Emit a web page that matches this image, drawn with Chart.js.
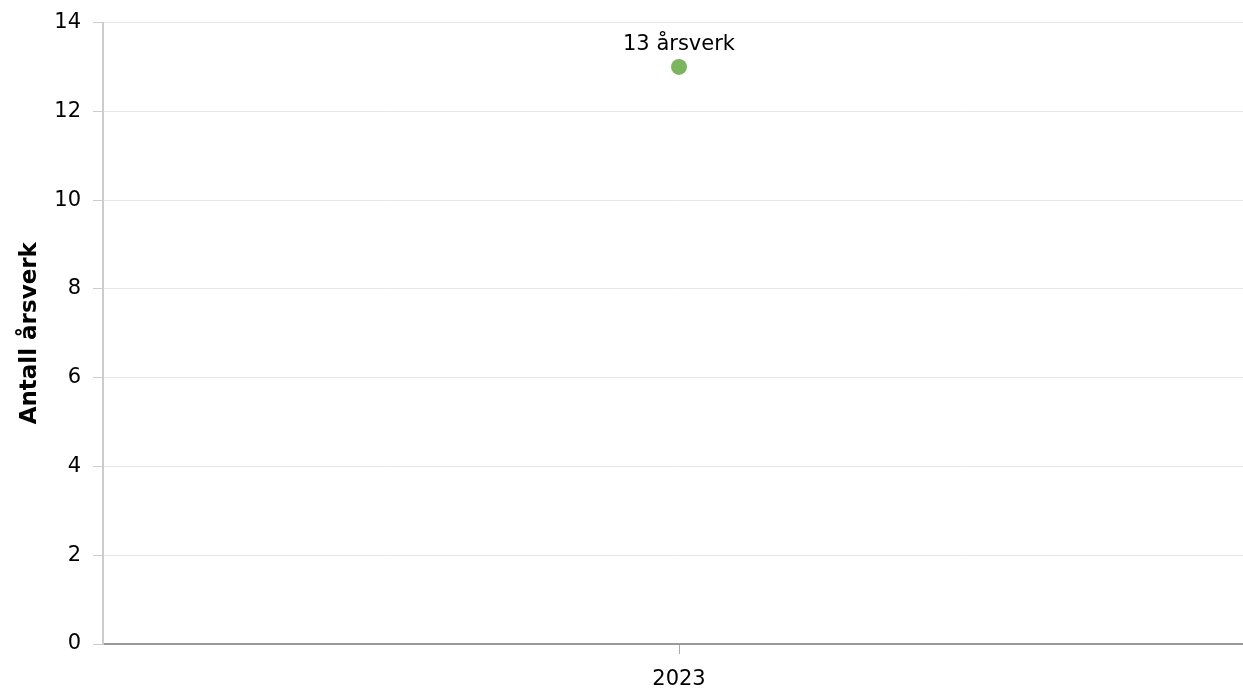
<!DOCTYPE html>
<html>
<head>
<meta charset="utf-8">
<script src="https://cdn.jsdelivr.net/npm/chart.js@4"></script>
<style>
html,body{margin:0;padding:0;overflow:hidden;background:#fff;}
#wrap{width:1263px;height:691px;position:relative;}
</style>
</head>
<body>
<div id="wrap"><canvas id="c"></canvas></div>
<script>
const categories = ["2023"];
const values = [13];
const pointLabels = ["13 årsverk"];
const yTicks = [0, 2, 4, 6, 8, 10, 12, 14];
const yTitle = "Antall årsverk";

const FONT = "'DejaVu Sans', Verdana, sans-serif";

const labelPlugin = {
  id: 'pointLabels',
  afterDatasetsDraw(chart) {
    const ctx = chart.ctx;
    const meta = chart.getDatasetMeta(0);
    ctx.save();
    ctx.font = "21px " + FONT;
    ctx.fillStyle = "#000";
    ctx.textAlign = "center";
    ctx.textBaseline = "alphabetic";
    meta.data.forEach((pt, i) => {
      ctx.fillText(pointLabels[i], pt.x, pt.y - 17);
    });
    ctx.restore();
  }
};

new Chart(document.getElementById('c'), {
  type: 'line',
  data: {
    labels: categories,
    datasets: [{
      data: values,
      showLine: false,
      pointRadius: 8,
      pointHoverRadius: 8,
      pointBackgroundColor: '#7cb55f',
      pointBorderColor: '#7cb55f',
      pointBorderWidth: 0
    }]
  },
  options: {
    responsive: true,
    maintainAspectRatio: false,
    animation: false,
    layout: { padding: { top: 21, right: 0, bottom: 0, left: 0 } },
    plugins: { legend: { display: false }, tooltip: { enabled: false } },
    scales: {
      x: {
        type: 'category',
        offset: true,
        grid: { drawOnChartArea: false, tickLength: 10, tickColor: '#aaa', offset: false, display: true },
        border: { color: '#999', width: 2 },
        ticks: { color: '#000', font: { family: FONT, size: 21 }, padding: 13 },
        afterFit(s) { s.height = 47; }
      },
      y: {
        min: 0, max: 14,
        afterBuildTicks(s) { s.ticks = yTicks.map(v => ({ value: v })); },
        grid: { color: '#e6e6e6', tickLength: 10, tickColor: '#ccc' },
        border: { color: '#ccc', width: 2 },
        ticks: { color: '#000', font: { family: FONT, size: 21, lineHeight: 1 }, padding: 12 },
        title: { display: true, text: yTitle, color: '#000', font: { family: FONT, size: 23, weight: 'bold' }, padding: { top: 16, bottom: 0 } },
        afterFit(s) { s.width = 103; }
      }
    }
  },
  plugins: [labelPlugin]
});
</script>
</body>
</html>
